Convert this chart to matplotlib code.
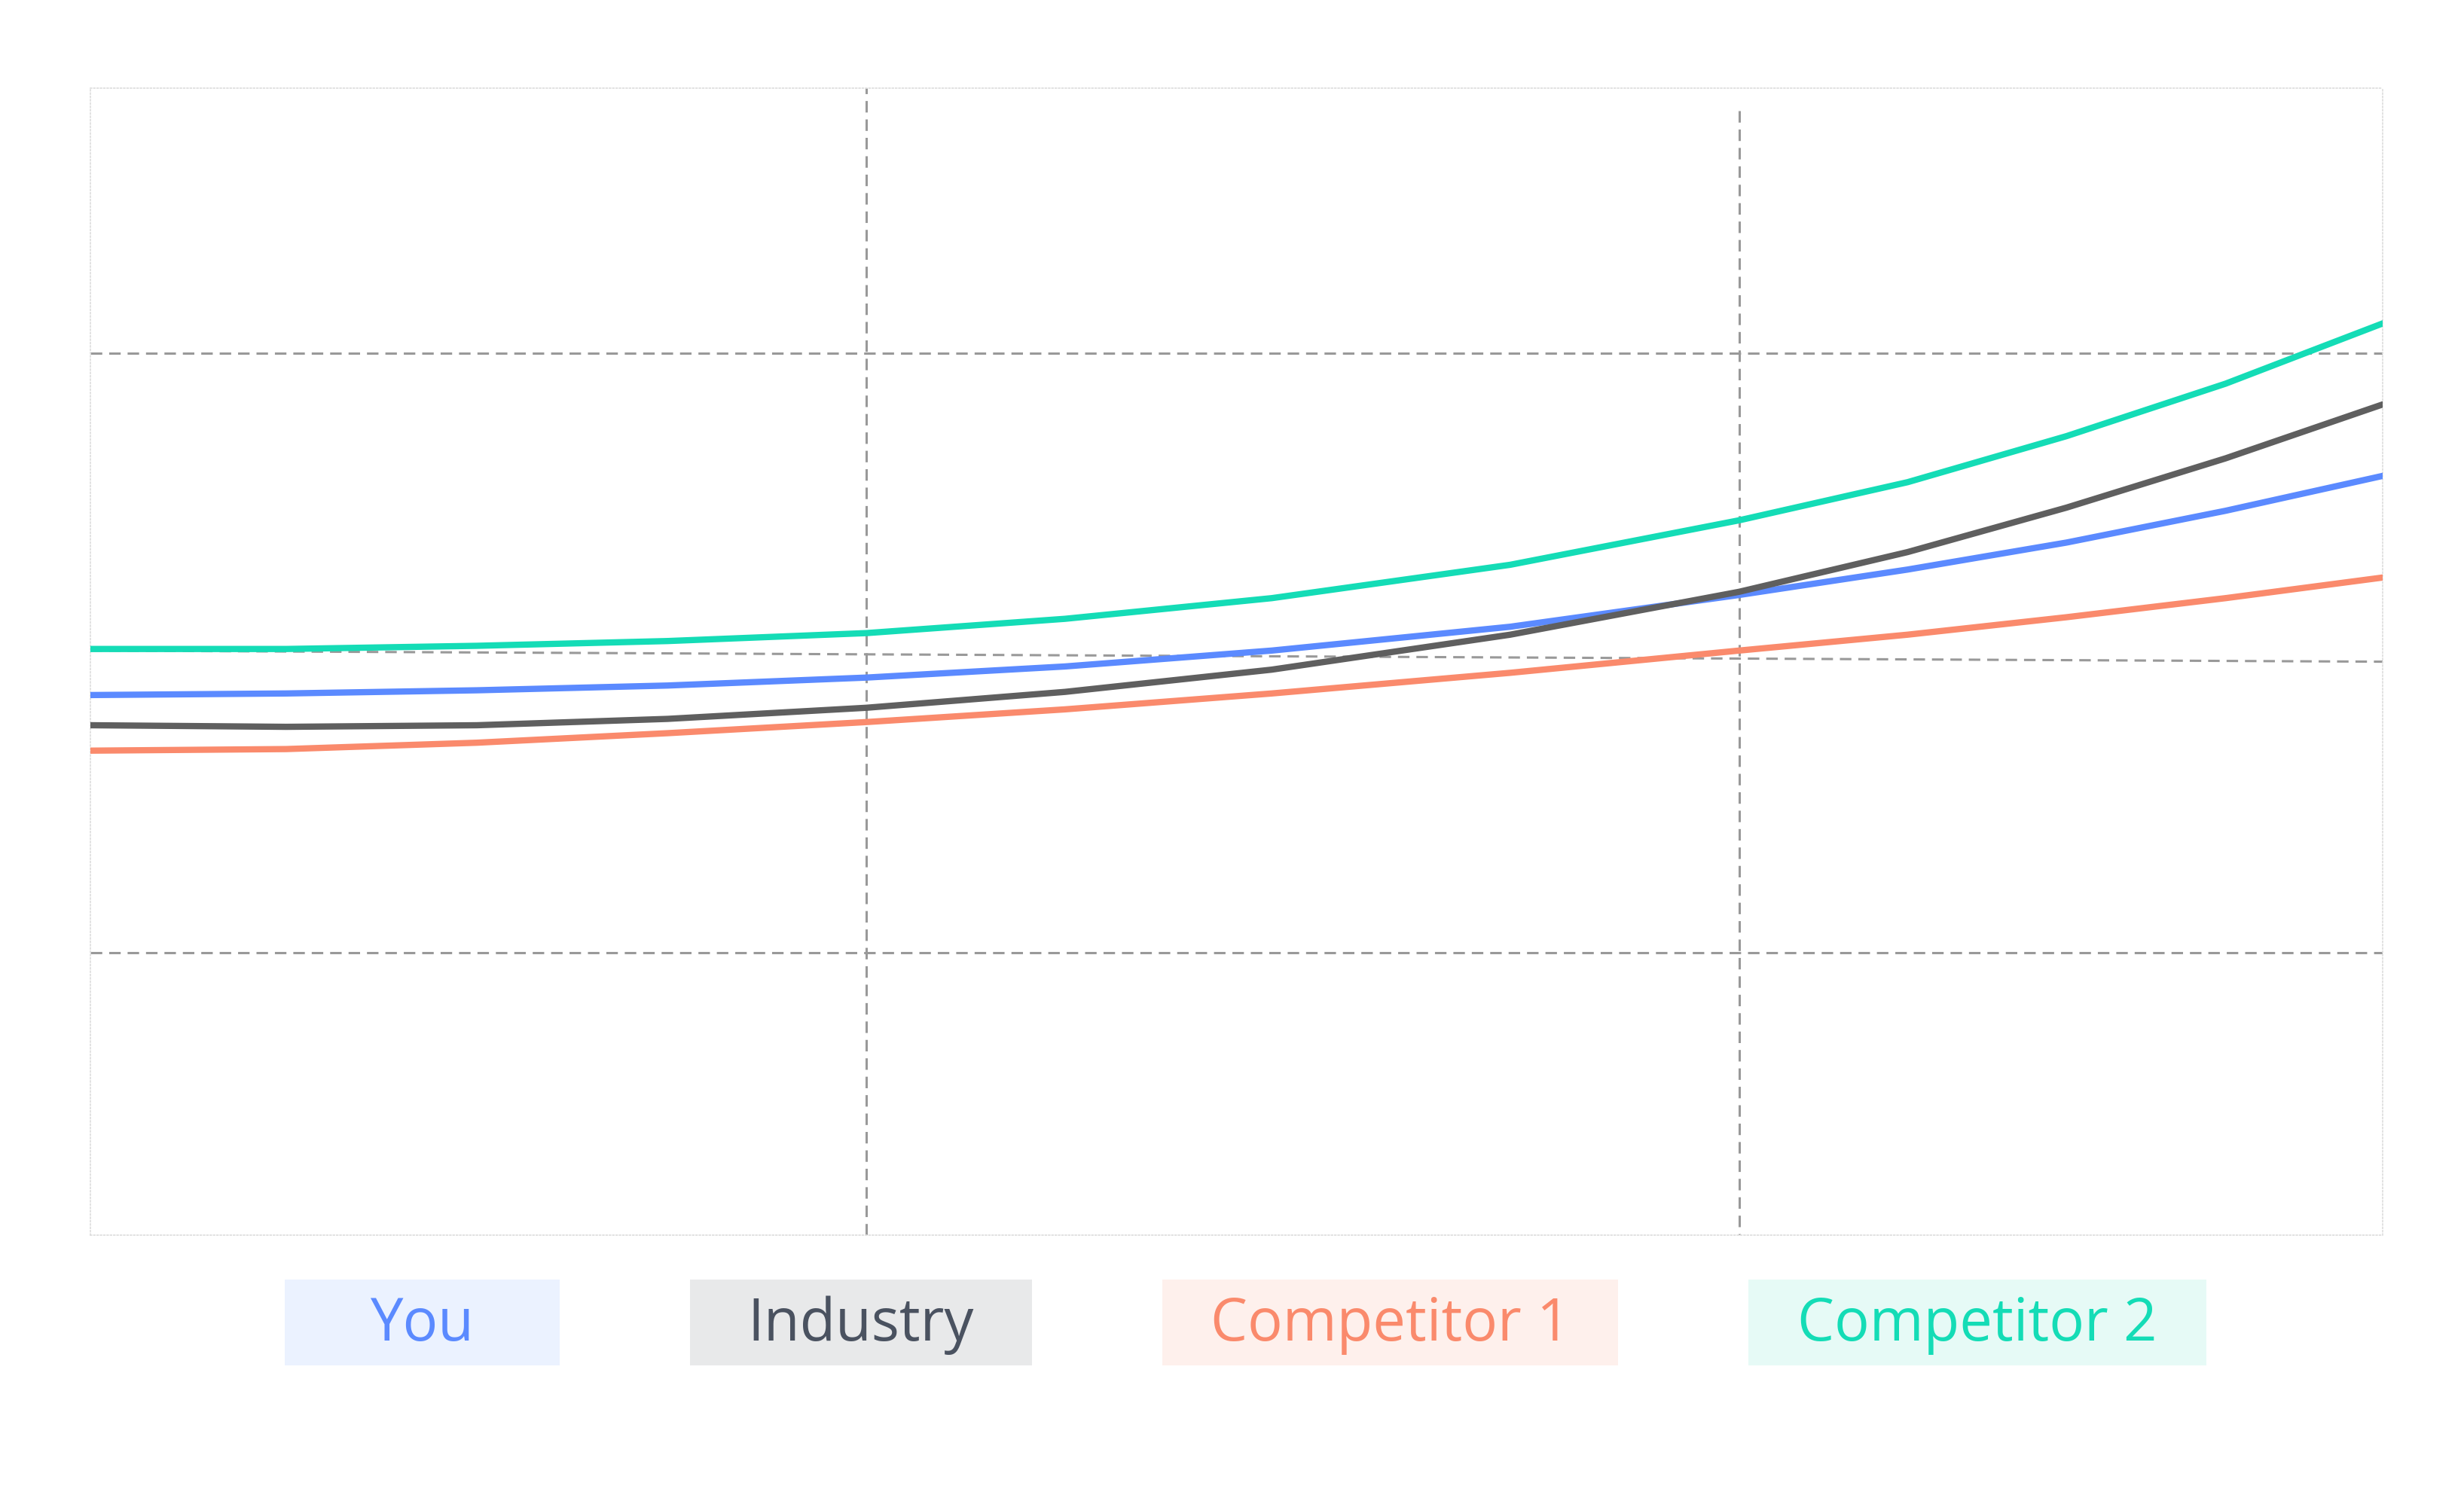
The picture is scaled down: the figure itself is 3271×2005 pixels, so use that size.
import matplotlib
matplotlib.use("Agg")
import matplotlib.pyplot as plt
from matplotlib.patches import Rectangle

x = [57, 180, 300, 420, 545, 670, 800, 950, 1094, 1200, 1300, 1400, 1499]
green = [409, 409, 407, 404, 399, 390, 377, 356, 328, 304, 275, 242, 204]
blue = [438, 437, 435, 432, 427, 420, 410, 395, 375, 359, 342, 322, 300]
gray = [457, 458, 457, 453, 446, 436, 422, 400, 373, 348, 320, 289, 255]
orange = [473, 472, 468, 462, 455, 447, 437, 424, 410, 400, 389, 377, 364]
names = ["You", "Industry", "Competitor 1", "Competitor 2"]
colors = ["#5b8aff", "#5f5f5f", "#fa8a6c", "#14dcb6"]
bgs = ["#ebf2ff", "#e8e9ea", "#fef0ec", "#e6faf6"]
txtcolors = ["#5b8aff", "#4a5260", "#fa8a6c", "#14dcb6"]
box_x = [(179, 352), (434, 649), (731, 1018), (1100, 1388)]

W, H = 1550, 951
fig = plt.figure(figsize=(32.71, 20.06), dpi=100)
ax = fig.add_axes([57/W, 1-778/H, (1499-57)/W, (778-56)/H])
ax.set_xlim(57, 1499)
ax.set_ylim(778, 56)
for s in ax.spines.values():
    s.set_color("#dddddd"); s.set_linestyle(":"); s.set_linewidth(1.2)
ax.set_xticks([]); ax.set_yticks([])
gk = dict(color="#999999", ls=(0, (5, 3)), lw=2.2, zorder=1)
ax.axhline(223, **gk)
ax.axhline(600, **gk)
ax.plot([57, 1499], [410, 417], **gk)
ax.axvline(545, **gk)
ax.plot([1094, 1094], [70, 778], **gk)
for ys, c in zip([orange, blue, gray, green], [colors[2], colors[0], colors[1], colors[3]]):
    ax.plot(x, ys, color=c, lw=6, solid_capstyle="round", zorder=3)

for n, (a, b), bg, tc in zip(names, box_x, bgs, txtcolors):
    fig.patches.append(Rectangle((a/W, 1-860/H), (b-a)/W, 54/H, transform=fig.transFigure,
                                 facecolor=bg, edgecolor="none"))
    fig.text((a+b)/2/W, 1-834/H, n, ha="center", va="center", fontsize=56,
             color=tc, family=["Open Sans", "DejaVu Sans"])
fig.savefig("out.png", dpi=100, facecolor="white")
